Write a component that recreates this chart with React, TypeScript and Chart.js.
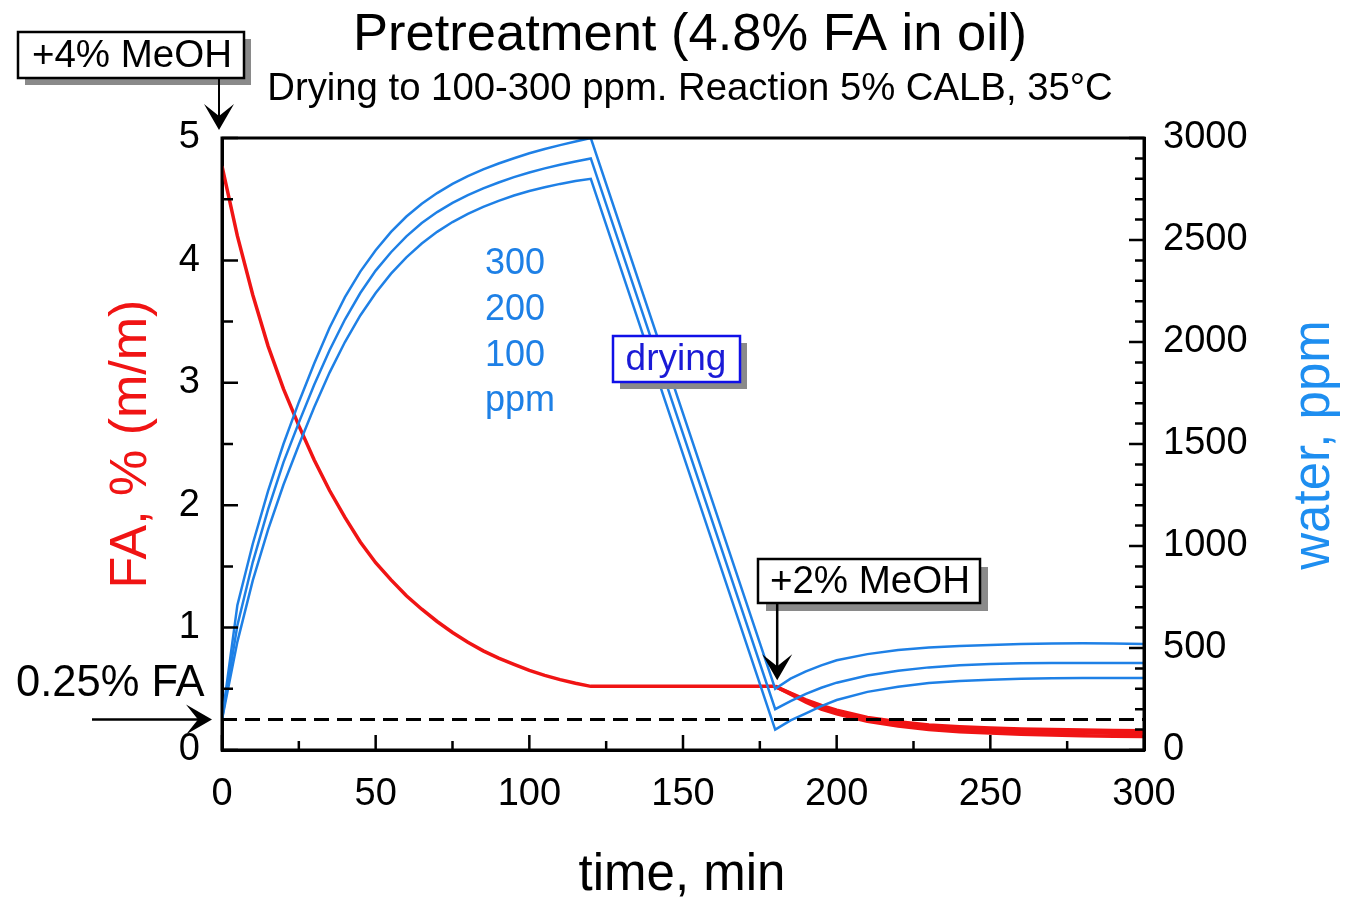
import React, { useEffect, useRef } from "react";
import { Chart, registerables } from "chart.js";
Chart.register(...registerables);

const FONT = '"Liberation Sans", Arial, Helvetica, sans-serif';
const RED = "#f01414";
const BLUE = "#1e80e6";
const BLUE_TITLE = "#1e8ef0";

// time grid for the first (reaction / water uptake) phase, min
const T_RISE = [0, 5, 10, 15, 20, 25, 30, 35, 40, 45, 50, 55, 60, 65, 70, 75, 80, 85, 90, 95, 100, 105, 110, 115, 120];
// FA, % (m/m) during first phase
const FA_RISE = [4.77, 4.2, 3.72, 3.3, 2.95, 2.65, 2.37, 2.12, 1.9, 1.7, 1.53, 1.39, 1.26, 1.15, 1.05, 0.96, 0.88, 0.81, 0.75, 0.7, 0.65, 0.61, 0.575, 0.545, 0.52];
const T_FLAT_END = 180;
const FA_FLAT = 0.52;
// after the second MeOH addition
const T_FALL = [180, 185, 190, 195, 200, 210, 220, 230, 240, 250, 260, 270, 280, 290, 300];
const FA_AFTER_300 = [0.52, 0.465, 0.41, 0.365, 0.325, 0.265, 0.23, 0.205, 0.19, 0.18, 0.172, 0.167, 0.163, 0.16, 0.158];
const FA_AFTER_200 = [0.52, 0.46, 0.4, 0.35, 0.31, 0.25, 0.21, 0.185, 0.17, 0.16, 0.15, 0.145, 0.14, 0.137, 0.135];
const FA_AFTER_100 = [0.52, 0.455, 0.39, 0.335, 0.295, 0.235, 0.195, 0.168, 0.15, 0.138, 0.128, 0.122, 0.117, 0.113, 0.11];

// water, ppm (dried to 300 / 200 / 100 ppm)
const WATER_RISE_300 = [150, 710, 1010, 1270, 1500, 1705, 1895, 2070, 2220, 2345, 2450, 2540, 2615, 2678, 2730, 2775, 2813, 2846, 2875, 2901, 2925, 2946, 2965, 2983, 3000];
const WATER_RISE_200 = [150, 610, 920, 1180, 1410, 1605, 1790, 1960, 2110, 2240, 2350, 2440, 2518, 2583, 2637, 2682, 2720, 2753, 2782, 2808, 2831, 2851, 2869, 2885, 2900];
const WATER_RISE_100 = [150, 530, 830, 1080, 1300, 1495, 1680, 1850, 2000, 2130, 2240, 2335, 2415, 2483, 2540, 2588, 2628, 2662, 2692, 2718, 2740, 2759, 2775, 2789, 2800];
const WATER_AFTER_300 = [300, 350, 385, 415, 440, 470, 490, 502, 510, 515, 519, 522, 523, 522, 520];
const WATER_AFTER_200 = [200, 240, 275, 305, 330, 365, 388, 405, 415, 422, 425, 426, 427, 427, 426];
const WATER_AFTER_100 = [100, 145, 180, 215, 245, 285, 310, 328, 338, 344, 349, 352, 353, 353, 353];

const FA_LIMIT = 0.25;
const T_RANGE = [0, 300];

const MINOR_T = [25, 75, 125, 175, 225, 275];
const MINOR_FA = [0.5, 1.5, 2.5, 3.5, 4.5];
const MINOR_W = [100, 200, 300, 400, 600, 700, 800, 900, 1100, 1200, 1300, 1400, 1600, 1700, 1800, 1900, 2100, 2200, 2300, 2400, 2600, 2700, 2800, 2900];

const pts = (xs: number[], ys: number[]) => xs.map((x, i) => ({ x, y: ys[i] }));

function arrowHead(ctx: CanvasRenderingContext2D, tx: number, ty: number, dir: "down" | "right") {
  ctx.beginPath();
  if (dir === "down") {
    ctx.moveTo(tx, ty);
    ctx.lineTo(tx - 15, ty - 26);
    ctx.lineTo(tx, ty - 14);
    ctx.lineTo(tx + 15, ty - 26);
  } else {
    ctx.moveTo(tx, ty);
    ctx.lineTo(tx - 26, ty - 15);
    ctx.lineTo(tx - 14, ty);
    ctx.lineTo(tx - 26, ty + 15);
  }
  ctx.closePath();
  ctx.fill();
}

function box(ctx: CanvasRenderingContext2D, x: number, y: number, w: number, h: number, border: string, shadow: number) {
  ctx.fillStyle = "#8a8a8a";
  ctx.fillRect(x + shadow, y + shadow, w, h);
  ctx.fillStyle = "#fff";
  ctx.fillRect(x, y, w, h);
  ctx.strokeStyle = border;
  ctx.lineWidth = 2.5;
  ctx.strokeRect(x, y, w, h);
}

const overlay = {
  id: "overlay",
  afterDraw(chart: any) {
    const ctx: CanvasRenderingContext2D = chart.ctx;
    const { left, right, top, bottom } = chart.chartArea;
    const sx = chart.scales.x;
    const sy = chart.scales.y;
    const sw = chart.scales.y2;
    ctx.save();
    // frame
    ctx.strokeStyle = "#000";
    ctx.lineWidth = 3;
    ctx.strokeRect(left, top, right - left, bottom - top);
    // ticks (inward): majors from the library's tick lists, minors between
    ctx.lineWidth = 2.5;
    ctx.beginPath();
    for (const t of sx.ticks) {
      const px = sx.getPixelForValue(t.value);
      ctx.moveTo(px, bottom);
      ctx.lineTo(px, bottom - 15);
    }
    for (const t of sy.ticks) {
      const py = sy.getPixelForValue(t.value);
      ctx.moveTo(left, py);
      ctx.lineTo(left + 16, py);
    }
    for (const t of sw.ticks) {
      const py = sw.getPixelForValue(t.value);
      ctx.moveTo(right, py);
      ctx.lineTo(right - 15, py);
    }
    for (const v of MINOR_T) {
      const px = sx.getPixelForValue(v);
      ctx.moveTo(px, bottom);
      ctx.lineTo(px, bottom - 9);
    }
    for (const v of MINOR_FA) {
      const py = sy.getPixelForValue(v);
      ctx.moveTo(left, py);
      ctx.lineTo(left + 11, py);
    }
    for (const v of MINOR_W) {
      const py = sw.getPixelForValue(v);
      ctx.moveTo(right, py);
      ctx.lineTo(right - 9, py);
    }
    ctx.stroke();

    // titles
    ctx.fillStyle = "#000";
    ctx.textAlign = "center";
    ctx.textBaseline = "alphabetic";
    ctx.font = `52.5px ${FONT}`;
    ctx.fillText("Pretreatment (4.8% FA in oil)", 690, 50);
    ctx.font = `38.3px ${FONT}`;
    ctx.fillText("Drying to 100-300 ppm. Reaction 5% CALB, 35°C", 690, 100);
    ctx.font = `51px ${FONT}`;
    ctx.fillText("time, min", 682, 890);

    // left axis title
    ctx.save();
    ctx.translate(146, 444);
    ctx.rotate(-Math.PI / 2);
    ctx.fillStyle = RED;
    ctx.font = `52px ${FONT}`;
    ctx.fillText("FA, % (m/m)", 0, 0);
    ctx.restore();
    // right axis title
    ctx.save();
    ctx.translate(1329, 445);
    ctx.rotate(-Math.PI / 2);
    ctx.fillStyle = BLUE_TITLE;
    ctx.font = `51px ${FONT}`;
    ctx.fillText("water, ppm", 0, 0);
    ctx.restore();

    // +4% MeOH
    box(ctx, 18, 32, 226, 46, "#000", 7);
    ctx.fillStyle = "#000";
    ctx.font = `38.5px ${FONT}`;
    ctx.textAlign = "center";
    ctx.fillText("+4% MeOH", 132, 67);
    const x0 = sx.getPixelForValue(0) - 3;
    const tip1 = sy.getPixelForValue(5) - 8;
    ctx.strokeStyle = "#000";
    ctx.lineWidth = 2;
    ctx.beginPath();
    ctx.moveTo(x0, 79);
    ctx.lineTo(x0, tip1 - 10);
    ctx.stroke();
    arrowHead(ctx, x0, tip1, "down");

    // +2% MeOH
    box(ctx, 758, 559, 222, 44, "#000", 8);
    ctx.fillStyle = "#000";
    ctx.fillText("+2% MeOH", 870, 593);
    const x180 = sx.getPixelForValue(T_FLAT_END) + 2;
    const tip2 = sy.getPixelForValue(FA_FLAT) - 6;
    ctx.beginPath();
    ctx.moveTo(x180, 604);
    ctx.lineTo(x180, tip2 - 10);
    ctx.stroke();
    arrowHead(ctx, x180, tip2, "down");

    // 0.25% FA
    ctx.font = `43.5px ${FONT}`;
    ctx.textAlign = "left";
    ctx.fillText("0.25% FA", 16, 696);
    const yl = sy.getPixelForValue(FA_LIMIT);
    ctx.beginPath();
    ctx.moveTo(92, yl);
    ctx.lineTo(200, yl);
    ctx.stroke();
    arrowHead(ctx, left - 10, yl, "right");

    // drying box
    box(ctx, 613, 336, 127, 46, "#1010e8", 7);
    ctx.fillStyle = "#1a1ad6";
    ctx.font = `37px ${FONT}`;
    ctx.textAlign = "center";
    ctx.fillText("drying", 676, 370);

    // ppm legend text
    ctx.fillStyle = BLUE;
    ctx.font = `36px ${FONT}`;
    ctx.textAlign = "left";
    ctx.fillText("300", 485, 274);
    ctx.fillText("200", 485, 320);
    ctx.fillText("100", 485, 366);
    ctx.fillText("ppm", 485, 411);
    ctx.restore();
  },
};

export default function App() {
  const ref = useRef<HTMLCanvasElement>(null);
  useEffect(() => {
    if (!ref.current) return;
    const faPre = pts([...T_RISE, T_FLAT_END], [...FA_RISE, FA_FLAT]);
    const T_WATER = [...T_RISE, ...T_FALL];
    const lineBase = { pointRadius: 0, tension: 0, fill: false };
    const plain = (v: any) => String(v);
    const chart = new Chart(ref.current, {
      type: "line",
      data: {
        datasets: [
          { ...lineBase, data: pts(T_RANGE, [FA_LIMIT, FA_LIMIT]), borderColor: "#000", borderWidth: 3, borderDash: [15, 8], yAxisID: "y" },
          { ...lineBase, data: pts(T_WATER, [...WATER_RISE_300, ...WATER_AFTER_300]), borderColor: BLUE, borderWidth: 2.5, yAxisID: "y2" },
          { ...lineBase, data: pts(T_WATER, [...WATER_RISE_200, ...WATER_AFTER_200]), borderColor: BLUE, borderWidth: 2.5, yAxisID: "y2" },
          { ...lineBase, data: pts(T_WATER, [...WATER_RISE_100, ...WATER_AFTER_100]), borderColor: BLUE, borderWidth: 2.5, yAxisID: "y2" },
          { ...lineBase, data: faPre, borderColor: RED, borderWidth: 3.5, yAxisID: "y" },
          { ...lineBase, data: pts(T_FALL, FA_AFTER_300), borderColor: RED, borderWidth: 3.5, yAxisID: "y" },
          { ...lineBase, data: pts(T_FALL, FA_AFTER_200), borderColor: RED, borderWidth: 3.5, yAxisID: "y" },
          { ...lineBase, data: pts(T_FALL, FA_AFTER_100), borderColor: RED, borderWidth: 3.5, yAxisID: "y" },
        ],
      },
      options: {
        responsive: false,
        animation: false,
        devicePixelRatio: 1,
        layout: { padding: { top: 138, left: 0, right: 0, bottom: 0 } },
        plugins: { legend: { display: false }, title: { display: false }, tooltip: { enabled: false } },
        scales: {
          x: {
            type: "linear",
            min: 0,
            max: 300,
            position: "bottom",
            afterFit: (s: any) => { s.height = 149; },
            ticks: { stepSize: 50, color: "#000", font: { family: FONT, size: 38 }, padding: 22, maxRotation: 0, callback: plain },
            grid: { display: false, drawTicks: false },
            border: { display: true, color: "#000", width: 3 },
          },
          y: {
            type: "linear",
            min: 0,
            max: 5,
            position: "left",
            afterFit: (s: any) => { s.width = 222; },
            ticks: { stepSize: 1, color: "#000", font: { family: FONT, size: 38 }, padding: 22, callback: plain },
            grid: { display: false, drawTicks: false },
            border: { display: true, color: "#000", width: 3 },
          },
          y2: {
            type: "linear",
            min: 0,
            max: 3000,
            position: "right",
            afterFit: (s: any) => { s.width = 205; },
            ticks: { stepSize: 500, color: "#000", font: { family: FONT, size: 38 }, padding: 19, callback: plain },
            grid: { display: false, drawTicks: false },
            border: { display: true, color: "#000", width: 3 },
          },
        },
      },
      plugins: [overlay],
    } as any);
    return () => chart.destroy();
  }, []);
  return (
    <div style={{ position: "absolute", left: 0, top: 0, width: 1349, height: 899, background: "#fff" }}>
      <canvas ref={ref} width={1349} height={899} style={{ display: "block" }} />
    </div>
  );
}
